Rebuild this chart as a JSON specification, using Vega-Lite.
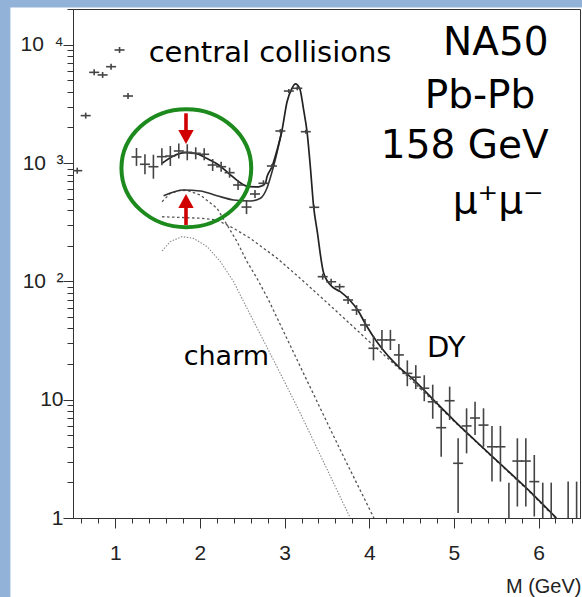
{
  "$schema": "https://vega.github.io/schema/vega-lite/v6.json",
  "autosize": {"type": "none"},
  "padding": {"left": 73, "top": 9, "right": 2, "bottom": 79},
  "width": 507,
  "height": 509,
  "background": "white",
  "config": {
    "view": {"stroke": "#333", "strokeWidth": 1},
    "axis": {"zindex": 1}
  },
  "resolve": {"axis": {"x": "independent", "y": "independent"}},
  "datasets": {
    "points": [
      {"M": 0.55, "y": 863, "lo": 814, "hi": 915},
      {"M": 0.65, "y": 2520, "lo": 2377, "hi": 2671},
      {"M": 0.75, "y": 5850, "lo": 5519, "hi": 6201},
      {"M": 0.85, "y": 5560, "lo": 5245, "hi": 5894},
      {"M": 0.95, "y": 6530, "lo": 6160, "hi": 6922},
      {"M": 1.05, "y": 9040, "lo": 8528, "hi": 9582},
      {"M": 1.15, "y": 3690, "lo": 3481, "hi": 3911},
      {"M": 1.25, "y": 1127, "lo": 947, "hi": 1341},
      {"M": 1.35, "y": 977, "lo": 804, "hi": 1187},
      {"M": 1.45, "y": 932, "lo": 738, "hi": 1177},
      {"M": 1.55, "y": 1133, "lo": 960, "hi": 1337},
      {"M": 1.65, "y": 1148, "lo": 945, "hi": 1395},
      {"M": 1.75, "y": 1266, "lo": 1094, "hi": 1465},
      {"M": 1.85, "y": 1234, "lo": 1056, "hi": 1443},
      {"M": 1.95, "y": 1210, "lo": 1076, "hi": 1360},
      {"M": 2.05, "y": 1187, "lo": 1056, "hi": 1334},
      {"M": 2.15, "y": 963, "lo": 857, "hi": 1082},
      {"M": 2.25, "y": 932, "lo": 846, "hi": 1027},
      {"M": 2.35, "y": 830, "lo": 753, "hi": 915},
      {"M": 2.45, "y": 653, "lo": 593, "hi": 720},
      {"M": 2.55, "y": 425, "lo": 371, "hi": 487},
      {"M": 2.65, "y": 548, "lo": 507, "hi": 592},
      {"M": 2.75, "y": 675, "lo": 637, "hi": 716},
      {"M": 2.85, "y": 945, "lo": 908, "hi": 983},
      {"M": 2.95, "y": 1868, "lo": 1796, "hi": 1943},
      {"M": 3.05, "y": 4065, "lo": 3909, "hi": 4228},
      {"M": 3.15, "y": 4288, "lo": 4123, "hi": 4460},
      {"M": 3.25, "y": 1842, "lo": 1771, "hi": 1916},
      {"M": 3.35, "y": 423, "lo": 407, "hi": 440},
      {"M": 3.45, "y": 109.6, "lo": 103.4, "hi": 116.2},
      {"M": 3.55, "y": 99.4, "lo": 93.8, "hi": 105.4},
      {"M": 3.65, "y": 90.2, "lo": 85.1, "hi": 95.6},
      {"M": 3.75, "y": 69.6, "lo": 64.4, "hi": 75.2},
      {"M": 3.85, "y": 57.3, "lo": 52.0, "hi": 63.1},
      {"M": 3.95, "y": 42.8, "lo": 38.1, "hi": 48.1},
      {"M": 4.05, "y": 27.2, "lo": 21.5, "hi": 34.4},
      {"M": 4.15, "y": 32.0, "lo": 26.3, "hi": 38.9},
      {"M": 4.25, "y": 32.0, "lo": 26.3, "hi": 38.9},
      {"M": 4.35, "y": 23.9, "lo": 19.3, "hi": 29.6},
      {"M": 4.45, "y": 16.7, "lo": 13.0, "hi": 21.5},
      {"M": 4.55, "y": 15.5, "lo": 12.3, "hi": 19.6},
      {"M": 4.65, "y": 12.5, "lo": 9.7, "hi": 16.1},
      {"M": 4.75, "y": 9.6, "lo": 6.9, "hi": 13.4},
      {"M": 4.85, "y": 5.8, "lo": 3.3, "hi": 8.46},
      {"M": 4.95, "y": 9.8, "lo": 6.74, "hi": 12.9},
      {"M": 5.05, "y": 2.9, "lo": 1.1, "hi": 4.72},
      {"M": 5.15, "y": 6.0, "lo": 3.52, "hi": 8.46},
      {"M": 5.25, "y": 7.0, "lo": 5.03, "hi": 9.62},
      {"M": 5.35, "y": 6.1, "lo": 4.0, "hi": 8.46},
      {"M": 5.45, "y": 4.0, "lo": 2.03, "hi": 6.0},
      {"M": 5.55, "y": 4.0, "lo": 2.03, "hi": 6.0},
      {"M": 5.65, "y": 0.7, "lo": 0.4, "hi": 1.99},
      {"M": 5.75, "y": 3.03, "lo": 1.25, "hi": 4.72},
      {"M": 5.85, "y": 3.03, "lo": 1.25, "hi": 4.72},
      {"M": 5.95, "y": 2.03, "lo": 1.03, "hi": 3.41},
      {"M": 6.05, "y": 0.7, "lo": 0.4, "hi": 1.99},
      {"M": 6.15, "y": 0.7, "lo": 0.4, "hi": 1.99},
      {"M": 6.35, "y": 0.7, "lo": 0.4, "hi": 2.03},
      {"M": 6.45, "y": 0.7, "lo": 0.4, "hi": 2.03}
    ],
    "curves": [
      {"series": "total", "M": 1.552, "y": 996},
      {"series": "total", "M": 1.67, "y": 1133},
      {"series": "total", "M": 1.827, "y": 1225},
      {"series": "total", "M": 1.945, "y": 1210},
      {"series": "total", "M": 2.064, "y": 1111},
      {"series": "total", "M": 2.221, "y": 963},
      {"series": "total", "M": 2.339, "y": 820},
      {"series": "total", "M": 2.458, "y": 697},
      {"series": "total", "M": 2.576, "y": 632},
      {"series": "total", "M": 2.694, "y": 630},
      {"series": "total", "M": 2.773, "y": 675},
      {"series": "total", "M": 2.792, "y": 767},
      {"series": "total", "M": 2.851, "y": 932},
      {"series": "total", "M": 2.911, "y": 1291},
      {"series": "total", "M": 2.97, "y": 1905},
      {"series": "total", "M": 3.029, "y": 3300},
      {"series": "total", "M": 3.088, "y": 4290},
      {"series": "total", "M": 3.127, "y": 4665},
      {"series": "total", "M": 3.178, "y": 4290},
      {"series": "total", "M": 3.225, "y": 2812},
      {"series": "total", "M": 3.265, "y": 1842},
      {"series": "total", "M": 3.304, "y": 932},
      {"series": "total", "M": 3.343, "y": 428},
      {"series": "total", "M": 3.383, "y": 272},
      {"series": "total", "M": 3.462, "y": 117},
      {"series": "total", "M": 3.561, "y": 90.2},
      {"series": "total", "M": 3.658, "y": 81.9},
      {"series": "total", "M": 3.768, "y": 69.6},
      {"series": "total", "M": 3.863, "y": 57.3},
      {"series": "total", "M": 3.962, "y": 42.8},
      {"series": "total", "M": 4.09, "y": 30.9},
      {"series": "total", "M": 4.367, "y": 18.4},
      {"series": "total", "M": 4.5, "y": 15.3},
      {"series": "total", "M": 4.8, "y": 9.3},
      {"series": "total", "M": 5.0, "y": 6.7},
      {"series": "total", "M": 5.3, "y": 4.2},
      {"series": "total", "M": 5.6, "y": 2.65},
      {"series": "total", "M": 5.9, "y": 1.67},
      {"series": "total", "M": 6.21, "y": 1.0},
      {"series": "expected", "M": 1.57, "y": 530},
      {"series": "expected", "M": 1.807, "y": 593},
      {"series": "expected", "M": 2.004, "y": 581},
      {"series": "expected", "M": 2.201, "y": 530},
      {"series": "expected", "M": 2.398, "y": 488},
      {"series": "expected", "M": 2.595, "y": 478},
      {"series": "expected", "M": 2.714, "y": 504},
      {"series": "expected", "M": 2.792, "y": 616},
      {"series": "expected", "M": 2.851, "y": 841},
      {"series": "expected", "M": 2.911, "y": 1236},
      {"series": "expected", "M": 2.97, "y": 1905},
      {"series": "DY", "M": 1.552, "y": 352},
      {"series": "DY", "M": 2.004, "y": 342},
      {"series": "DY", "M": 2.202, "y": 330},
      {"series": "DY", "M": 2.398, "y": 281},
      {"series": "DY", "M": 2.595, "y": 231},
      {"series": "DY", "M": 2.911, "y": 157},
      {"series": "DY", "M": 3.186, "y": 106},
      {"series": "DY", "M": 3.6, "y": 57},
      {"series": "DY", "M": 4.0, "y": 31},
      {"series": "DY", "M": 4.4, "y": 17.1},
      {"series": "DY", "M": 4.8, "y": 9.1},
      {"series": "DY", "M": 5.0, "y": 6.6},
      {"series": "DY", "M": 5.3, "y": 4.15},
      {"series": "DY", "M": 5.6, "y": 2.62},
      {"series": "DY", "M": 5.9, "y": 1.65},
      {"series": "DY", "M": 6.2, "y": 1.0},
      {"series": "charm_enh", "M": 1.552, "y": 472},
      {"series": "charm_enh", "M": 1.65, "y": 555},
      {"series": "charm_enh", "M": 1.748, "y": 585},
      {"series": "charm_enh", "M": 1.85, "y": 588},
      {"series": "charm_enh", "M": 2.004, "y": 537},
      {"series": "charm_enh", "M": 2.202, "y": 415},
      {"series": "charm_enh", "M": 2.32, "y": 300},
      {"series": "charm_enh", "M": 2.438, "y": 217},
      {"series": "charm_enh", "M": 2.556, "y": 147},
      {"series": "charm_enh", "M": 2.674, "y": 106},
      {"series": "charm_enh", "M": 2.811, "y": 69.6},
      {"series": "charm_enh", "M": 3.186, "y": 19},
      {"series": "charm_enh", "M": 3.658, "y": 3.76},
      {"series": "charm_enh", "M": 4.055, "y": 1.0},
      {"series": "charm", "M": 1.552, "y": 181},
      {"series": "charm", "M": 1.65, "y": 217},
      {"series": "charm", "M": 1.788, "y": 239},
      {"series": "charm", "M": 1.925, "y": 231},
      {"series": "charm", "M": 2.084, "y": 197},
      {"series": "charm", "M": 2.241, "y": 147},
      {"series": "charm", "M": 2.398, "y": 99.4},
      {"series": "charm", "M": 2.516, "y": 67.4},
      {"series": "charm", "M": 2.949, "y": 16.7},
      {"series": "charm", "M": 3.186, "y": 7.67},
      {"series": "charm", "M": 3.776, "y": 1.0}
    ],
    "labels": [
      {"group": "note", "label": "central collisions", "M": 1.394, "y": 7115},
      {"group": "note", "label": "DY", "M": 4.682, "y": 23.1},
      {"group": "charm", "label": "charm", "M": 1.807, "y": 19.7},
      {"group": "info", "label": "NA50", "M": 6.119, "y": 8204},
      {"group": "info", "label": "Pb-Pb", "M": 5.962, "y": 2905},
      {"group": "info", "label": "158 GeV", "M": 6.119, "y": 1097},
      {"group": "info", "label": "μ⁺μ⁻", "M": 6.06, "y": 376}
    ],
    "excess": [
      {"M": 1.839, "y": 906}
    ],
    "arrows": [
      {"dir": "down", "M": 1.835, "y": 2636, "y2": 1750, "tip": 1450},
      {"dir": "up", "M": 1.835, "y": 300, "y2": 460, "tip": 548}
    ]
  },
  "layer": [
    {
      "data": {"values": [{"part": "left"}]},
      "mark": {"type": "rect", "fill": "#93b2d8", "clip": false},
      "encoding": {
        "x": {"datum": -2, "type": "quantitative", "scale": {"domain": [0.5, 6.49], "nice": false, "zero": false}, "axis": null},
        "x2": {"datum": -0.24},
        "y": {"datum": 0.05, "type": "quantitative", "scale": {"type": "log", "domain": [1, 20070], "nice": false}, "axis": null},
        "y2": {"datum": 1000000}
      }
    },
    {
      "data": {"values": [{"part": "top"}]},
      "mark": {"type": "rect", "fill": "#93b2d8", "clip": false},
      "encoding": {
        "x": {"datum": -2, "type": "quantitative", "scale": {"domain": [0.5, 6.49], "nice": false, "zero": false}, "axis": null},
        "x2": {"datum": 8},
        "y": {"datum": 20660, "type": "quantitative", "scale": {"type": "log", "domain": [1, 20070], "nice": false}, "axis": null},
        "y2": {"datum": 1000000}
      }
    },
    {
      "data": {"name": "curves"},
      "transform": [{"filter": "datum.series == 'charm'"}],
      "mark": {"type": "line", "color": "#8a8a8a", "strokeWidth": 1.1, "strokeDash": [1.5, 1.5], "clip": true},
      "encoding": {
        "x": {
          "field": "M", "type": "quantitative",
          "scale": {"domain": [0.5, 6.49], "nice": false, "zero": false},
          "axis": {
            "orient": "bottom",
            "values": [0.6, 0.8, 1.2, 1.4, 1.6, 1.8, 2.2, 2.4, 2.6, 2.8, 3.2, 3.4, 3.6, 3.8, 4.2, 4.4, 4.6, 4.8, 5.2, 5.4, 5.6, 5.8, 6.2, 6.4],
            "grid": false, "ticks": true, "domain": true,
            "domainColor": "#333", "tickColor": "#333", "tickWidth": 1,
            "tickSize": 5, "labels": false, "title": null
          }
        },
        "y": {
          "field": "y", "type": "quantitative",
          "scale": {"type": "log", "domain": [1, 20070], "nice": false},
          "axis": {
            "orient": "left",
            "values": [2, 3, 4, 5, 6, 7, 8, 9, 20, 30, 40, 50, 60, 70, 80, 90, 200, 300, 400, 500, 600, 700, 800, 900, 2000, 3000, 4000, 5000, 6000, 7000, 8000, 9000, 20000],
            "grid": false, "ticks": true, "domain": true,
            "domainColor": "#333", "tickColor": "#333", "tickWidth": 1,
            "tickSize": 6, "labels": false, "title": null
          }
        }
      }
    },
    {
      "data": {"name": "curves"},
      "transform": [{"filter": "datum.series == 'charm_enh'"}],
      "mark": {"type": "line", "color": "#555", "strokeWidth": 1.3, "strokeDash": [2.5, 2.5], "clip": true},
      "encoding": {
        "x": {
          "field": "M", "type": "quantitative",
          "scale": {"domain": [0.5, 6.49], "nice": false, "zero": false},
          "axis": {
            "orient": "bottom",
            "values": [1, 2, 3, 4, 5, 6],
            "labelExpr": "'' + datum.value",
            "grid": false, "ticks": true, "domain": true,
            "domainColor": "#333", "tickColor": "#333", "tickWidth": 1,
            "tickSize": 10,
            "labelFont": "Liberation Sans", "labelFontSize": 21, "labelColor": "#222",
            "labelPadding": 14, "labelFlush": false, "labelOverlap": false,
            "title": "M (GeV)", "titleFont": "Liberation Sans", "titleFontSize": 20,
            "titleFontWeight": "normal", "titleColor": "#222",
            "titleAnchor": "end", "titleAlign": "right", "titleBaseline": "alphabetic",
            "titleX": 508, "titleY": 74
          }
        },
        "y": {
          "field": "y", "type": "quantitative",
          "scale": {"type": "log", "domain": [1, 20070], "nice": false},
          "axis": {
            "orient": "left",
            "values": [1, 10, 100, 1000, 10000],
            "labelExpr": "datum.value == 1 ? '1\u00a0\u00a0\u00a0' : datum.value == 10 ? '10\u00a0\u00a0\u00a0' : datum.value == 100 ? '10\u2002²' : datum.value == 1000 ? '10\u2002³' : '10\u2002⁴'",
            "grid": false, "ticks": true, "domain": true,
            "domainColor": "#333", "tickColor": "#333", "tickWidth": 1,
            "tickSize": 10,
            "labelFont": "Liberation Sans", "labelFontSize": 21, "labelColor": "#222",
            "labelPadding": 0, "labelAlign": "right", "labelBaseline": "middle",
            "labelFlush": false, "labelOverlap": false,
            "title": null
          }
        }
      }
    },
    {
      "data": {"name": "curves"},
      "transform": [{"filter": "datum.series == 'DY'"}],
      "mark": {"type": "line", "color": "#555", "strokeWidth": 1.3, "strokeDash": [2.5, 2.5], "clip": true},
      "encoding": {
        "x": {"field": "M", "type": "quantitative", "scale": {"domain": [0.5, 6.49], "nice": false, "zero": false}, "axis": null},
        "y": {"field": "y", "type": "quantitative", "scale": {"type": "log", "domain": [1, 20070], "nice": false}, "axis": null}
      }
    },
    {
      "data": {"name": "curves"},
      "transform": [{"filter": "datum.series == 'expected'"}],
      "mark": {"type": "line", "color": "#333", "strokeWidth": 1.6, "interpolate": "monotone", "clip": true},
      "encoding": {
        "x": {"field": "M", "type": "quantitative", "scale": {"domain": [0.5, 6.49], "nice": false, "zero": false}, "axis": null},
        "y": {"field": "y", "type": "quantitative", "scale": {"type": "log", "domain": [1, 20070], "nice": false}, "axis": null}
      }
    },
    {
      "data": {"name": "curves"},
      "transform": [{"filter": "datum.series == 'total'"}],
      "mark": {"type": "line", "color": "#222", "strokeWidth": 1.7, "interpolate": "monotone", "clip": true},
      "encoding": {
        "x": {"field": "M", "type": "quantitative", "scale": {"domain": [0.5, 6.49], "nice": false, "zero": false}, "axis": null},
        "y": {"field": "y", "type": "quantitative", "scale": {"type": "log", "domain": [1, 20070], "nice": false}, "axis": null}
      }
    },
    {
      "data": {"name": "points"},
      "mark": {"type": "rule", "color": "#444", "strokeWidth": 1.6, "clip": true},
      "encoding": {
        "x": {"field": "M", "type": "quantitative", "scale": {"domain": [0.5, 6.49], "nice": false, "zero": false}, "axis": null},
        "y": {"field": "lo", "type": "quantitative", "scale": {"type": "log", "domain": [1, 20070], "nice": false}, "axis": null},
        "y2": {"field": "hi"}
      }
    },
    {
      "data": {"name": "points"},
      "mark": {"type": "tick", "orient": "horizontal", "color": "#444", "size": 10, "thickness": 1.6, "opacity": 1, "clip": true},
      "encoding": {
        "x": {"field": "M", "type": "quantitative", "scale": {"domain": [0.5, 6.49], "nice": false, "zero": false}, "axis": null},
        "y": {"field": "y", "type": "quantitative", "scale": {"type": "log", "domain": [1, 20070], "nice": false}, "axis": null}
      }
    },
    {
      "data": {"name": "excess"},
      "mark": {
        "type": "point",
        "shape": "M-1.1,0 C-1.1,-0.5523 -0.6075,-1 0,-1 C0.6075,-1 1.1,-0.5523 1.1,0 C1.1,0.5523 0.6075,1 0,1 C-0.6075,1 -1.1,0.5523 -1.1,0 Z",
        "size": 13924, "filled": false, "color": "#1c8a1c", "strokeWidth": 4, "opacity": 1, "clip": false
      },
      "encoding": {
        "x": {"field": "M", "type": "quantitative", "scale": {"domain": [0.5, 6.49], "nice": false, "zero": false}, "axis": null},
        "y": {"field": "y", "type": "quantitative", "scale": {"type": "log", "domain": [1, 20070], "nice": false}, "axis": null}
      }
    },
    {
      "data": {"name": "arrows"},
      "mark": {"type": "rule", "color": "#d10000", "strokeWidth": 3.6},
      "encoding": {
        "x": {"field": "M", "type": "quantitative", "scale": {"domain": [0.5, 6.49], "nice": false, "zero": false}, "axis": null},
        "y": {"field": "y", "type": "quantitative", "scale": {"type": "log", "domain": [1, 20070], "nice": false}, "axis": null},
        "y2": {"field": "y2"}
      }
    },
    {
      "data": {"name": "arrows"},
      "transform": [{"filter": "datum.dir == 'down'"}],
      "mark": {"type": "point", "shape": "M0,0 L-0.55,-1 L0.55,-1 Z", "size": 784, "filled": true, "color": "#d10000", "opacity": 1, "strokeWidth": 0},
      "encoding": {
        "x": {"field": "M", "type": "quantitative", "scale": {"domain": [0.5, 6.49], "nice": false, "zero": false}, "axis": null},
        "y": {"field": "tip", "type": "quantitative", "scale": {"type": "log", "domain": [1, 20070], "nice": false}, "axis": null}
      }
    },
    {
      "data": {"name": "arrows"},
      "transform": [{"filter": "datum.dir == 'up'"}],
      "mark": {"type": "point", "shape": "M0,0 L-0.55,1 L0.55,1 Z", "size": 784, "filled": true, "color": "#d10000", "opacity": 1, "strokeWidth": 0},
      "encoding": {
        "x": {"field": "M", "type": "quantitative", "scale": {"domain": [0.5, 6.49], "nice": false, "zero": false}, "axis": null},
        "y": {"field": "tip", "type": "quantitative", "scale": {"type": "log", "domain": [1, 20070], "nice": false}, "axis": null}
      }
    },
    {
      "data": {"name": "labels"},
      "transform": [{"filter": "datum.group == 'note'"}],
      "mark": {"type": "text", "align": "left", "baseline": "alphabetic", "font": "DejaVu Sans", "fontSize": 29, "color": "#000"},
      "encoding": {
        "x": {"field": "M", "type": "quantitative", "scale": {"domain": [0.5, 6.49], "nice": false, "zero": false}, "axis": null},
        "y": {"field": "y", "type": "quantitative", "scale": {"type": "log", "domain": [1, 20070], "nice": false}, "axis": null},
        "text": {"field": "label"}
      }
    },
    {
      "data": {"name": "labels"},
      "transform": [{"filter": "datum.group == 'charm'"}],
      "mark": {"type": "text", "align": "left", "baseline": "alphabetic", "font": "DejaVu Sans", "fontSize": 27, "color": "#000"},
      "encoding": {
        "x": {"field": "M", "type": "quantitative", "scale": {"domain": [0.5, 6.49], "nice": false, "zero": false}, "axis": null},
        "y": {"field": "y", "type": "quantitative", "scale": {"type": "log", "domain": [1, 20070], "nice": false}, "axis": null},
        "text": {"field": "label"}
      }
    },
    {
      "data": {"name": "labels"},
      "transform": [{"filter": "datum.group == 'info'"}],
      "mark": {"type": "text", "align": "right", "baseline": "alphabetic", "font": "DejaVu Sans", "fontSize": 39, "color": "#000"},
      "encoding": {
        "x": {"field": "M", "type": "quantitative", "scale": {"domain": [0.5, 6.49], "nice": false, "zero": false}, "axis": null},
        "y": {"field": "y", "type": "quantitative", "scale": {"type": "log", "domain": [1, 20070], "nice": false}, "axis": null},
        "text": {"field": "label"}
      }
    }
  ]
}
